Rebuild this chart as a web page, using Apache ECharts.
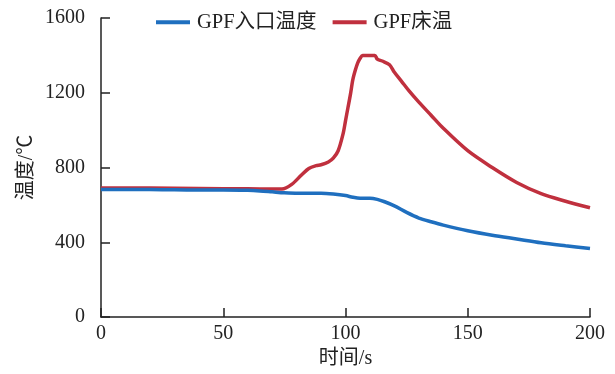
<!DOCTYPE html>
<html><head><meta charset="utf-8">
<script src="https://cdn.jsdelivr.net/npm/echarts@6/dist/echarts.min.js"></script>
<style>html,body{margin:0;padding:0;background:#fff}#c{width:615px;height:374px}</style>
</head><body><div id="c"></div>
<script>
const xTicks = [0, 50, 100, 150, 200];
const yTicks = [0, 400, 800, 1200, 1600];
const inletTime = [0,10,20,30,40,50,60,65,70,75,80,85,90,95,100,103,106,110,113,116,120,125,130,135,140,150,160,170,180,190,200];
const inletTemp = [683,682,682,681,680,680,678,675,670,665,663,662,662,658,650,641,636,636,630,617,595,560,530,510,492,462,438,418,398,382,367];
const bedTime = [0,20,40,60,70,74,78,82,85,88,90,93,95,97,99,100,101,102,103,104,105,106,107,110,112,113,115,118,120,123,126,130,135,140,150,160,170,180,190,200];
const bedTemp = [690,690,688,686,685,685,710,760,795,810,815,830,850,890,980,1050,1120,1190,1270,1320,1360,1385,1400,1400,1400,1380,1370,1350,1310,1260,1210,1150,1080,1010,890,800,720,660,620,585];
const seriesNames = ['GPF入口温度', 'GPF床温'];

const font = '"Liberation Serif", "Noto Sans CJK SC", serif';
const chart = echarts.init(document.getElementById('c'));
const pair = (t, v) => t.map((x, i) => [x, v[i]]);
chart.setOption({
  animation: false,
  grid: {left: 101, right: 25, top: 18, bottom: 54},
  legend: {
    top: 7, left: 151, itemGap: 16, itemWidth: 34, itemHeight: 4,
    icon: 'rect',
    textStyle: {fontFamily: font, fontSize: 20.5, color: '#222', padding: [0, 0, 0, 2]},
    data: seriesNames
  },
  xAxis: {
    type: 'value', min: 0, max: 200, interval: 50,
    name: '时间/s', nameLocation: 'middle', nameGap: 30,
    nameTextStyle: {fontFamily: font, fontSize: 20, color: '#222'},
    axisLine: {lineStyle: {color: '#222', width: 1.5}},
    axisTick: {inside: true, length: 9, lineStyle: {color: '#222', width: 1.5}},
    axisLabel: {fontFamily: font, fontSize: 20, color: '#222', margin: 7,
      formatter: v => xTicks.includes(v) ? String(v) : ''},
    splitLine: {show: false}
  },
  yAxis: {
    type: 'value', min: 0, max: 1600, interval: 400,
    name: '温度/℃', nameLocation: 'middle', nameGap: 64, nameRotate: 90,
    nameMoveOverlap: false,
    nameTextStyle: {fontFamily: font, fontSize: 20, color: '#222'},
    axisLine: {show: true, lineStyle: {color: '#222', width: 1.5}},
    axisTick: {show: true, inside: true, length: 9, lineStyle: {color: '#222', width: 1.5}},
    axisLabel: {fontFamily: font, fontSize: 20, color: '#222', margin: 16,
      formatter: v => yTicks.includes(v) ? String(v) : ''},
    splitLine: {show: false}
  },
  series: [
    {name: seriesNames[0], type: 'line', data: pair(inletTime, inletTemp), showSymbol: false,
      smooth: 0.3, lineStyle: {color: '#1f6fbf', width: 3.5}, itemStyle: {color: '#1f6fbf'}, z: 3},
    {name: seriesNames[1], type: 'line', data: pair(bedTime, bedTemp), showSymbol: false,
      smooth: 0.3, lineStyle: {color: '#c0303e', width: 3.5}, itemStyle: {color: '#c0303e'}, z: 2}
  ]
});
</script></body></html>
